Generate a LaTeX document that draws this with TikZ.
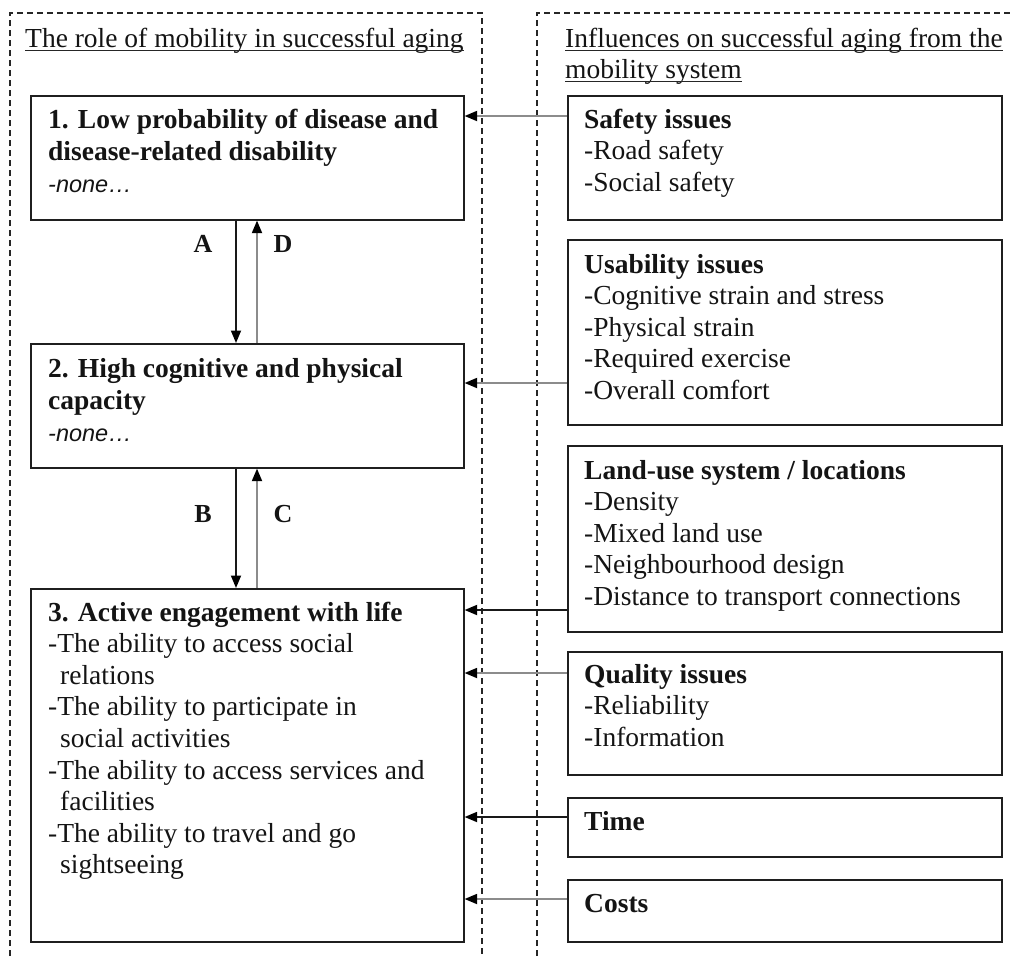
\documentclass[tikz,border=0pt]{standalone}
\usepackage{fontspec}
\setmainfont{Liberation Serif}
\newfontfamily\nonefont{Liberation Sans}
\usetikzlibrary{arrows.meta}
\begin{document}
\begin{tikzpicture}[x=1pt,y=-1pt,
  box/.style={draw=black!88, line width=1.6pt, inner sep=0pt, anchor=north west},
  txt/.style={inner sep=0pt, anchor=base west, align=left, text=black!92, font=\fontsize{27.5}{31.6}\selectfont},
  frame/.style={draw=black!85, dash pattern=on 6pt off 4pt, line width=1.3pt},
  blk/.style={line width=1.8pt, draw=black!90, -{Triangle[length=12.5pt,width=10pt,color=black,fill=black]}},
  gry/.style={line width=1.8pt, draw=black!45, -{Triangle[length=12.5pt,width=10pt,color=black,fill=black]}},
  lbl/.style={inner sep=0pt, anchor=base, text=black!92, font=\fontsize{26}{30}\selectfont\bfseries},
  ul/.style={line width=1.2pt, draw=black!85}]
\useasboundingbox (0,0) rectangle (1012,956);

% dashed frames
\draw[frame] (10,956) -- (10,13) -- (482,13) -- (482,956);
\draw[frame] (537,956) -- (537,13) -- (1012,13);

% titles
\node[txt] (T1) at (25,47) {The role of mobility in successful aging};
\node[txt] (T2a) at (565,47) {Influences on successful aging from the};
\node[txt] (T2b) at (565,78) {mobility system};
\draw[ul] ([yshift=-3.5pt]T1.base west) -- ([yshift=-3.5pt]T1.base east);
\draw[ul] ([yshift=-3.5pt]T2a.base west) -- ([yshift=-3.5pt]T2a.base east);
\draw[ul] ([yshift=-3.5pt]T2b.base west) -- ([yshift=-3.5pt]T2b.base east);

% left boxes
\node[box, minimum width=433pt, minimum height=124pt] (b1) at (30,95) {};
\node[box, minimum width=433pt, minimum height=124pt] (b2) at (30,343) {};
\node[box, minimum width=433pt, minimum height=353pt] (b3) at (30,588) {};

% right boxes
\node[box, minimum width=434pt, minimum height=124pt] (r1) at (567,95) {};
\node[box, minimum width=434pt, minimum height=185pt] (r2) at (567,239) {};
\node[box, minimum width=434pt, minimum height=186pt] (r3) at (567,445) {};
\node[box, minimum width=434pt, minimum height=123pt] (r4) at (567,651) {};
\node[box, minimum width=434pt, minimum height=59pt] (r5) at (567,797) {};
\node[box, minimum width=434pt, minimum height=62pt] (r6) at (567,879) {};

% left texts (anchor = baseline of last line)
\node[txt] (x1) at (48,192) {\textbf{1. Low probability of disease and}\\\textbf{disease-related disability}\\{\nonefont\itshape\fontsize{23.5}{31.6}\selectfont -none…}};
\node[txt] (x2) at (48,441) {\textbf{2. High cognitive and physical}\\\textbf{capacity}\\{\nonefont\itshape\fontsize{23.5}{31.6}\selectfont -none…}};
\node[txt] (x3) at (48,873.8) {\textbf{3. Active engagement with life}\\-The ability to access social\\\hspace*{12pt}relations\\-The ability to participate in\\\hspace*{12pt}social activities\\-The ability to access services and\\\hspace*{12pt}facilities\\-The ability to travel and go\\\hspace*{12pt}sightseeing};

% right texts
\node[txt] (y1t) at (584,191.2) {\textbf{Safety issues}\\-Road safety\\-Social safety};
\node[txt] (y2t) at (584,399.4) {\textbf{Usability issues}\\-Cognitive strain and stress\\-Physical strain\\-Required exercise\\-Overall comfort};
\node[txt] (y3t) at (584,605.4) {\textbf{Land-use system / locations}\\-Density\\-Mixed land use\\-Neighbourhood design\\-Distance to transport connections};
\node[txt] (y4t) at (584,746.2) {\textbf{Quality issues}\\-Reliability\\-Information};
\node[txt] (y5t) at (584,830) {\textbf{Time}};
\node[txt] (y6t) at (584,912) {\textbf{Costs}};

% vertical arrows
\coordinate (ax) at (236,0);
\coordinate (dx) at (257,0);
\draw[blk] (b1.south -| ax) -- (b2.north -| ax);
\draw[gry] (b2.north -| dx) -- (b1.south -| dx);
\draw[blk] (b2.south -| ax) -- (b3.north -| ax);
\draw[gry] (b3.north -| dx) -- (b2.south -| dx);
\node[lbl] (lA) at (203,252) {A};
\node[lbl] (lD) at (283,252) {D};
\node[lbl] (lB) at (203,522) {B};
\node[lbl] (lC) at (283,522) {C};

% horizontal arrows
\coordinate (h1) at (0,116);
\coordinate (h2) at (0,383);
\coordinate (h3) at (0,610);
\coordinate (h4) at (0,673);
\coordinate (h5) at (0,817);
\coordinate (h6) at (0,899);
\draw[gry] (r1.west |- h1) -- (b1.east |- h1);
\draw[gry] (r2.west |- h2) -- (b2.east |- h2);
\draw[blk] (r3.west |- h3) -- (b3.east |- h3);
\draw[gry] (r4.west |- h4) -- (b3.east |- h4);
\draw[blk] (r5.west |- h5) -- (b3.east |- h5);
\draw[gry] (r6.west |- h6) -- (b3.east |- h6);
\end{tikzpicture}
\end{document}
